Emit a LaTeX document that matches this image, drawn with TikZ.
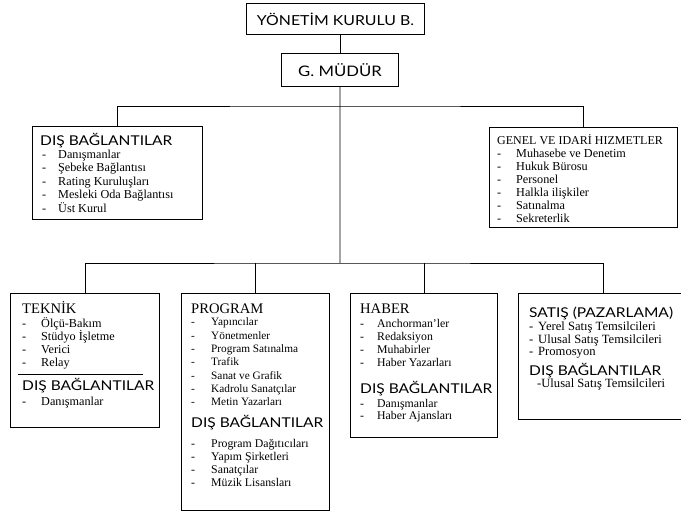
\documentclass[tikz,border=0pt]{standalone}
\usepackage{fontspec}
\setmainfont{Liberation Serif}
\newfontfamily\optfont{Lato}[FakeStretch=1.15]
\begin{document}
\begin{tikzpicture}[x=1pt,y=-1pt,
  box/.style={draw, line width=0.9pt, rectangle, inner sep=0pt, anchor=north west},
  link/.style={line width=0.8pt},
  itm/.style={inner sep=0pt, anchor=base west},
  opthead/.style={inner sep=0pt, anchor=base west, font=\optfont\fontsize{13.5}{15}\selectfont},
  serhead/.style={inner sep=0pt, anchor=base west, font=\fontsize{14.6}{16}\selectfont},
  toptext/.style={font=\optfont\fontsize{13.8}{15}\selectfont}]
\useasboundingbox (0,0) rectangle (681,516);
% a list of "- item" lines: name, dash x, text x, first baseline, step, font size, items
\newcommand\itemlist[7]{%
  \foreach \t [count=\i from 0] in {#7} {%
    \node[itm, font=\fontsize{#6}{#6}\selectfont] (#1-d\i) at ({#2},{#4+#5*\i}) {-};
    \node[itm, font=\fontsize{#6}{#6}\selectfont] (#1-t\i) at ({#3},{#4+#5*\i}) {\t};
  }}

% management
\node[box, minimum width=178pt, minimum height=31pt, toptext] (yk) at (246,3) {YÖNETİM KURULU B.};
\node[box, minimum width=117pt, minimum height=33pt, toptext, font=\optfont\fontsize{14.5}{16}\selectfont] (gm) at (281,53) {G. MÜDÜR};

% upper level boxes
\node[box, minimum width=170pt, minimum height=93pt] (dis) at (32,126) {};
\node[opthead] (dis-h) at (40,146) {DIŞ BAĞLANTILAR};
\itemlist{dis}{42}{58}{158.5}{13.4}{12.2}{Danışmanlar, Şebeke Bağlantısı, Rating Kuruluşları, Mesleki Oda Bağlantısı, Üst Kurul}

\node[box, minimum width=188pt, minimum height=100pt] (gen) at (489,127) {};
\node[serhead, font=\fontsize{12}{14}\selectfont] (gen-h) at (497,145) {GENEL VE IDARİ HIZMETLER};
\itemlist{gen}{497}{516}{158}{12.9}{12.2}{Muhasebe ve Denetim, Hukuk Bürosu, Personel, Halkla ilişkiler, Satınalma, Sekreterlik}

% lower level boxes
\node[box, minimum width=149pt, minimum height=134pt] (tek) at (10,293) {};
\node[serhead] (tek-h) at (22,313) {TEKNİK};
\itemlist{tek}{22}{41}{327}{13}{12.2}{Ölçü-Bakım, Stüdyo İşletme, Verici, Relay}
\coordinate (tek-sl) at (18,374);
\coordinate (tek-sr) at (143,374);
\draw[line width=0.9pt] (tek-sl) -- (tek-sr);
\node[opthead] (tek-h2) at (22,390) {DIŞ BAĞLANTILAR};
\itemlist{tekd}{22}{41}{405}{13}{12.2}{Danışmanlar}

\node[box, minimum width=148pt, minimum height=217pt] (prg) at (181,293) {};
\node[serhead] (prg-h) at (191,313) {PROGRAM};
\itemlist{prg}{191}{211}{326}{13.33}{11.3}{Yapıncılar, Yönetmenler, Program Satınalma, Trafik, Sanat ve Grafik, Kadrolu Sanatçılar, Metin Yazarları}
\node[opthead] (prg-h2) at (191,427) {DIŞ BAĞLANTILAR};
\itemlist{prgd}{191}{211}{447}{13.3}{11.8}{Program Dağıtıcıları, Yapım Şirketleri, Sanatçılar, Müzik Lisansları}

\node[box, minimum width=147pt, minimum height=144pt] (hab) at (350,293) {};
\node[serhead] (hab-h) at (360,313) {HABER};
\itemlist{hab}{360}{377}{327}{13}{11.8}{Anchorman'ler, Redaksiyon, Muhabirler, Haber Yazarları}
\node[opthead] (hab-h2) at (360,393) {DIŞ BAĞLANTILAR};
\itemlist{habd}{360}{377}{407}{12.5}{11.8}{Danışmanlar, Haber Ajansları}

\node[box, minimum width=170pt, minimum height=126pt] (sat) at (518,293) {};
\node[opthead] (sat-h) at (529,317) {SATIŞ (PAZARLAMA)};
\itemlist{sat}{529}{538}{330.5}{12.6}{12.6}{Yerel Satış Temsilcileri, Ulusal Satış Temsilcileri, Promosyon}
\node[opthead] (sat-h2) at (529,375) {DIŞ BAĞLANTILAR};
\node[itm, font=\fontsize{12.6}{12.6}\selectfont] (sat-u) at (537,387.5) {-Ulusal Satış Temsilcileri};

% connectors
\coordinate (j1) at (340,106);
\coordinate (j2) at (340,263);
\draw[link] (gm.north) -- (gm.north |- yk.south);
\draw[link] (gm.south) -- (j2);
\draw[link] (dis.north) |- (j1) -| (gen.north);
\draw[link] (tek.north) |- (j2) -| (sat.north);
\draw[link] (prg.north) -- (prg.north |- j2);
\draw[link] (hab.north) -- (hab.north |- j2);
\end{tikzpicture}
\end{document}
